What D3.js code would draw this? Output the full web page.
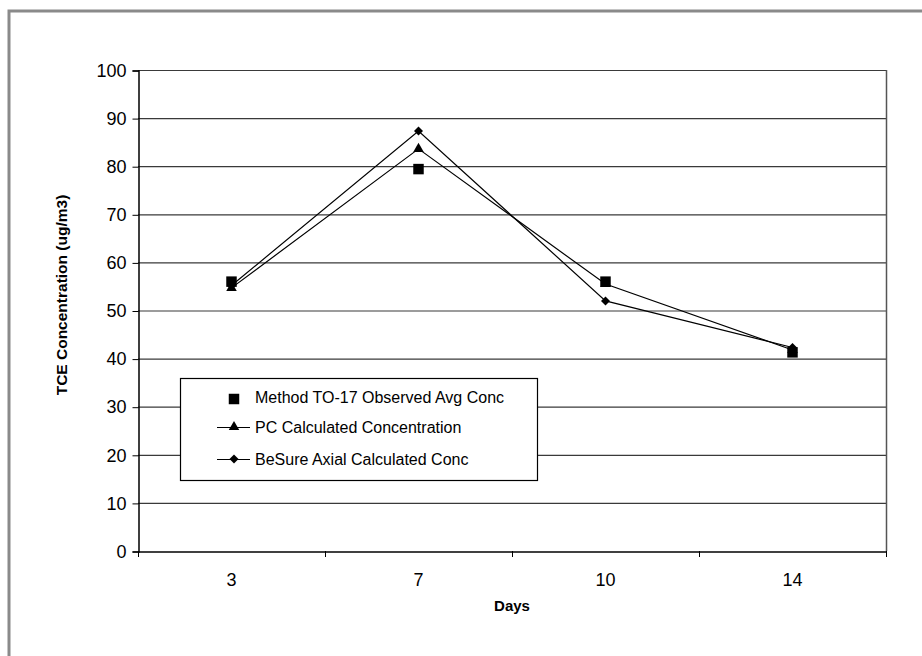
<!DOCTYPE html>
<html><head><meta charset="utf-8">
<script src="https://cdn.jsdelivr.net/npm/d3@7"></script>
<style>body{margin:0;background:#fff;} svg{display:block;font-family:Arial,"Liberation Sans",sans-serif;}</style>
</head><body>
<svg id="c" width="922" height="656"></svg>
<script>
const categories = ["3", "7", "10", "14"];
const methodTO17 = [56.0, 79.4, 56.0, 41.3];
const pcCalc = [54.7, 83.6, 55.5, 41.8];
const besureAxial = [55.2, 87.3, 52.0, 42.3];
const yTicks = [0,10,20,30,40,50,60,70,80,90,100];
const seriesNames = ["Method TO-17 Observed Avg Conc", "PC Calculated Concentration", "BeSure Axial Calculated Conc"];

const svg = d3.select("#c");
// outer frame
svg.append("path").attr("d","M9,660 L9,11 L930,11").attr("fill","none").attr("stroke","#8a8a8a").attr("stroke-width",3);

const L=138, R=886, T=70, B=551;
const x = d3.scaleBand().domain(categories).range([L,R]);
const y = d3.scaleLinear().domain([0,100]).range([B,T]);
const FF = "Arial,'Liberation Sans',sans-serif";

// gridlines
svg.append("g").selectAll("line").data(yTicks.filter(d=>d>0)).join("line")
  .attr("x1",L).attr("x2",R).attr("y1",d=>y(d)+0.5).attr("y2",d=>y(d)+0.5)
  .attr("stroke","#3a3a3a").attr("stroke-width",1.2);
// right border
svg.append("line").attr("x1",R+0.5).attr("x2",R+0.5).attr("y1",T).attr("y2",B).attr("stroke","#555").attr("stroke-width",1.5);

// y axis
const yAx = svg.append("g").attr("transform",`translate(${L+0.5},0.5)`)
  .call(d3.axisLeft(y).tickValues(yTicks).tickSize(6).tickPadding(6));
yAx.select(".domain").attr("stroke","#000").attr("stroke-width",1.5);
yAx.selectAll(".tick line").attr("stroke","#000");
yAx.selectAll("text").attr("font-size",18).attr("fill","#000").attr("font-family",FF);

// x axis
const xAx = svg.append("g").attr("transform",`translate(0,${B+0.5})`)
  .call(d3.axisBottom(x).tickSize(0).tickPadding(22));
xAx.select(".domain").attr("stroke","#000").attr("stroke-width",1.5);
xAx.selectAll("text").attr("font-size",18).attr("fill","#000").attr("font-family",FF);
// boundary ticks
const bounds = categories.map(c=>x(c)).concat([R]);
svg.append("g").selectAll("line").data(bounds).join("line")
  .attr("x1",d=>Math.round(d)+0.5).attr("x2",d=>Math.round(d)+0.5).attr("y1",B).attr("y2",B+6).attr("stroke","#000");

const cx = c => x(c) + x.bandwidth()/2;

// lines
const line = d3.line().x((d,i)=>cx(categories[i])).y(d=>y(d));
[pcCalc, besureAxial].forEach(s=>{
  svg.append("path").datum(s).attr("d",line).attr("fill","none").attr("stroke","#000").attr("stroke-width",1.2);
});
// markers
const sq = d3.symbol().type(d3.symbolSquare).size(110);
const tri = d3.symbol().type(d3.symbolTriangle).size(48);
const diaPath = "M0,-4.5L4.5,0L0,4.5L-4.5,0Z";
function addMarks(data, d, extra){
  svg.append("g").selectAll("path").data(data).join("path")
    .attr("transform",(v,i)=>`translate(${cx(categories[i])},${y(v)})`).attr("d",d).attr("fill","#000");
}
addMarks(methodTO17, sq);
addMarks(pcCalc, tri);
addMarks(besureAxial, diaPath);

// legend
const lg = svg.append("g");
lg.append("rect").attr("x",180.5).attr("y",378.5).attr("width",357).attr("height",102).attr("fill","#fff").attr("stroke","#000").attr("stroke-width",1.2);
const ly = [397, 427, 459];
const syms = [sq, tri, diaPath];
seriesNames.forEach((n,i)=>{
  if(i>0) lg.append("line").attr("x1",217).attr("x2",250).attr("y1",ly[i]+0.5).attr("y2",ly[i]+0.5).attr("stroke","#000").attr("stroke-width",1.2);
  lg.append("path").attr("transform",`translate(234,${ly[i]+ (i==0?2:0)})`).attr("d",syms[i]).attr("fill","#000");
  lg.append("text").attr("x",255).attr("y",ly[i]).attr("dy","0.35em").attr("font-size",16).attr("font-family",FF).text(n);
});

// axis titles
svg.append("text").attr("x",512).attr("y",611).attr("text-anchor","middle").attr("font-size",15).attr("font-weight","bold").attr("font-family",FF).text("Days");
svg.append("text").attr("transform","translate(67,295) rotate(-90)").attr("text-anchor","middle").attr("font-size",15.5).attr("font-weight","bold").attr("font-family",FF).text("TCE Concentration (ug/m3)");
</script>
</body></html>
